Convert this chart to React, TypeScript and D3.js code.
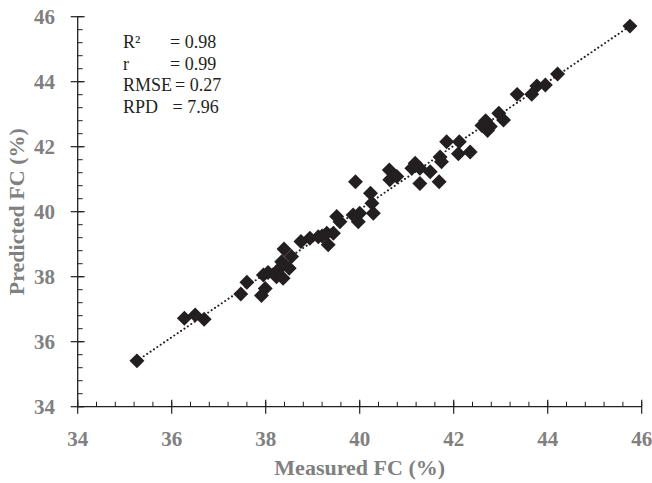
import React from "react";
import * as d3 from "d3";

const measured = [
  35.26, 36.27, 36.5, 36.69, 37.47, 37.6, 37.91, 37.99, 37.95, 38.05, 38.23, 38.37,
  38.28, 38.34, 38.39, 38.5, 38.55, 38.75, 38.94, 39.12, 39.33, 39.3, 39.44, 39.51,
  39.58, 39.86, 39.97, 40.0, 39.91, 40.23, 40.26, 40.29, 40.63, 40.64, 40.79, 41.11,
  41.18, 41.28, 41.28, 41.5, 41.69, 41.71, 41.74, 41.85, 42.12, 42.1, 42.35, 42.6,
  42.68, 42.72, 42.78, 42.96, 43.06, 43.35, 43.66, 43.77, 43.95, 44.21, 45.75, 39.2,
];
const predicted = [
  35.41, 36.72, 36.82, 36.69, 37.47, 37.83, 37.42, 37.64, 38.05, 38.13, 38.0, 37.95,
  38.23, 38.46, 38.85, 38.26, 38.62, 39.08, 39.18, 39.23, 38.98, 39.34, 39.34, 39.85,
  39.69, 39.9, 39.69, 39.95, 40.92, 40.57, 40.26, 39.95, 41.28, 40.98, 41.08, 41.34,
  41.49, 41.34, 40.87, 41.23, 40.92, 41.68, 41.54, 42.15, 42.15, 41.78, 41.84, 42.65,
  42.8, 42.5, 42.62, 43.03, 42.82, 43.61, 43.61, 43.87, 43.9, 44.24, 45.71, 39.25,
];
const fitX = [35.26, 45.75];
const fitY = [35.41, 45.71];
const majorTicks = [34, 36, 38, 40, 42, 44, 46];
const minorTicks = d3.range(34, 46.001, 0.4);
const statLabels = ["R\u00B2", "r", "RMSE", "RPD"];
const statValues = ["= 0.98", "= 0.99", "= 0.27", "= 7.96"];
const statValueX = [170, 170, 175, 172.5];

const W = 652;
const H = 483;
const axisColor = "#231f20";
const labelColor = "#808080";
const serif = "'Liberation Serif', 'DejaVu Serif', serif";

export default function App() {
  const x = d3.scaleLinear().domain([34, 46]).range([77.7, 641.7]);
  const y = d3.scaleLinear().domain([34, 46]).range([406.7, 16.7]);
  const diamond = d3.symbol(d3.symbolSquare, 112)()!;
  const line = d3
    .line<number>()
    .x((_, i) => x(fitX[i]))
    .y((_, i) => y(fitY[i]));

  return (
    <svg
      width={W}
      height={H}
      style={{ position: "absolute", left: 0, top: 0, background: "#fff" }}
    >
      {/* fit line */}
      <path
        d={line(fitX)!}
        fill="none"
        stroke="#231f20"
        strokeWidth={2}
        strokeLinecap="round"
        strokeDasharray="0.1 4"
      />
      {/* points */}
      {measured.map((m, i) => (
        <path
          key={i}
          d={diamond}
          transform={`translate(${x(m)},${y(predicted[i])}) rotate(45)`}
          fill="#231f20"
        />
      ))}
      {/* axes */}
      <line x1={x(34)} x2={x(46)} y1={y(34)} y2={y(34)} stroke={axisColor} strokeWidth={1.3} />
      <line x1={x(34)} x2={x(34)} y1={y(34)} y2={y(46)} stroke={axisColor} strokeWidth={1.3} />
      {minorTicks.map((t, i) => (
        <g key={"m" + i}>
          <line x1={x(t)} x2={x(t)} y1={y(34)} y2={y(34) - 5} stroke={axisColor} strokeWidth={1} />
          <line x1={x(34)} x2={x(34) + 5} y1={y(t)} y2={y(t)} stroke={axisColor} strokeWidth={1} />
        </g>
      ))}
      {majorTicks.map((t) => (
        <g key={"M" + t}>
          <line x1={x(t)} x2={x(t)} y1={y(34) - 7} y2={y(34) + 7} stroke={axisColor} strokeWidth={1.2} />
          <line x1={x(34) - 7} x2={x(34) + 7} y1={y(t)} y2={y(t)} stroke={axisColor} strokeWidth={1.2} />
          <text
            x={x(t)}
            y={446}
            textAnchor="middle"
            fontFamily={serif}
            fontWeight="bold"
            fontSize={21}
            fill={labelColor}
          >
            {t}
          </text>
          <text
            x={55}
            y={y(t) + 7}
            textAnchor="end"
            fontFamily={serif}
            fontWeight="bold"
            fontSize={21}
            fill={labelColor}
          >
            {t}
          </text>
        </g>
      ))}
      {/* axis titles */}
      <text
        x={(x(34) + x(46)) / 2}
        y={475}
        textAnchor="middle"
        fontFamily={serif}
        fontWeight="bold"
        fontSize={22}
        fill={labelColor}
      >
        Measured FC (%)
      </text>
      <text
        transform={`translate(24,${(y(34) + y(46)) / 2}) rotate(-90)`}
        textAnchor="middle"
        fontFamily={serif}
        fontWeight="bold"
        fontSize={22}
        fill={labelColor}
      >
        Predicted FC (%)
      </text>
      {/* stats */}
      {statLabels.map((s, i) => (
        <g key={s}>
          <text x={123} y={48 + i * 21.7} fontFamily={serif} fontSize={18} fill="#231f20">
            {s}
          </text>
          <text x={statValueX[i]} y={48 + i * 21.7} fontFamily={serif} fontSize={18} fill="#231f20">
            {statValues[i]}
          </text>
        </g>
      ))}
    </svg>
  );
}
